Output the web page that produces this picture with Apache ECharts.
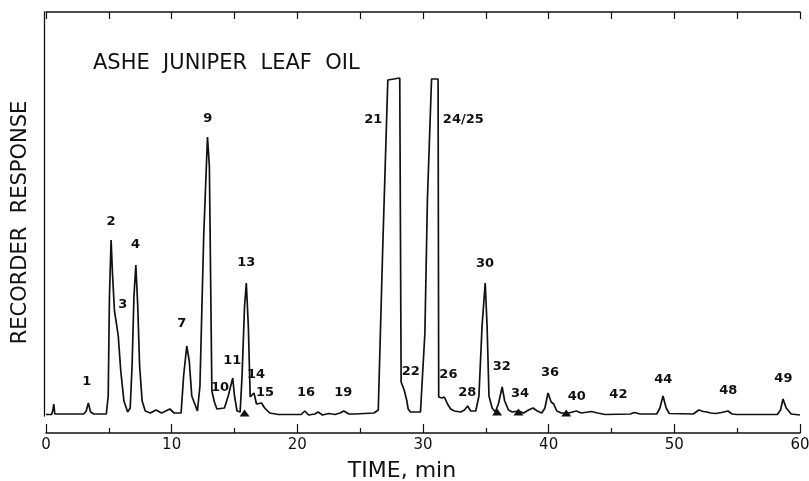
<!DOCTYPE html>
<html>
<head>
<meta charset="utf-8">
<script src="https://cdn.jsdelivr.net/npm/echarts@6/dist/echarts.min.js"></script>
<style>
  html, body { margin: 0; padding: 0; background: #fff; }
  #chart { width: 809px; height: 481px; }
</style>
</head>
<body>
<div id="chart"></div>
<script>
// recorder trace: [time in min, response in arbitrary units]
const trace = [
  [0, 1.5], [0.45, 1.5], [0.55, 6], [0.62, 12], [0.7, 2],
  [3.0, 2], [3.2, 5], [3.37, 13], [3.55, 4], [3.8, 2],
  [4.8, 2], [4.95, 20], [5.05, 120], [5.18, 176], [5.3, 140], [5.45, 105], [5.6, 93], [5.75, 80], [5.95, 45], [6.2, 15], [6.5, 4],
  [6.7, 8], [6.85, 50], [7.0, 120], [7.15, 151], [7.3, 110], [7.45, 50], [7.65, 15], [7.9, 5], [8.3, 3], [8.75, 6], [9.2, 3], [9.85, 7], [10.2, 3], [10.75, 3],
  [10.95, 40], [11.2, 70], [11.4, 55], [11.6, 20], [11.9, 10], [12.05, 5],
  [12.25, 30], [12.55, 180], [12.85, 279], [13.0, 250], [13.2, 25], [13.4, 14], [13.6, 7], [14.2, 8],
  [14.5, 20], [14.86, 38], [15.0, 20], [15.2, 5], [15.45, 4],
  [15.6, 40], [15.8, 110], [15.94, 133], [16.1, 90], [16.25, 19], [16.4, 18], [16.55, 23], [16.75, 12], [16.9, 11], [17.15, 13], [17.4, 8], [17.8, 3], [18.5, 1.5],
  [20.3, 1.5], [20.6, 5], [20.9, 1], [21.4, 2], [21.65, 4], [22.0, 1], [22.5, 2.5], [23.0, 1.5], [23.4, 3], [23.7, 5], [24.1, 2], [24.6, 2],
  [26.1, 3], [26.44, 6], [26.8, 170], [27.2, 336], [27.3, 338], [28.15, 338], [28.2, 336], [28.26, 34], [28.5, 26], [28.7, 16], [28.82, 7], [29.0, 4], [29.8, 4],
  [29.85, 6], [30.15, 83], [30.35, 216], [30.68, 337], [31.2, 337], [31.25, 19], [31.5, 18], [31.7, 19], [31.95, 12], [32.2, 7], [32.5, 5], [33.0, 4], [33.3, 6], [33.55, 10], [33.8, 5], [34.2, 5],
  [34.45, 20], [34.7, 90], [34.95, 133], [35.1, 90], [35.25, 20], [35.5, 8], [35.75, 4],
  [36.0, 12], [36.3, 29], [36.5, 15], [36.8, 6], [37.1, 4], [37.6, 5], [38.0, 3], [38.4, 6], [38.75, 8], [39.1, 5], [39.45, 3],
  [39.7, 8], [39.95, 23], [40.2, 14], [40.4, 12], [40.65, 5], [41.0, 3], [41.6, 3], [42.2, 5], [42.6, 3], [43.4, 4.5], [43.9, 3], [44.5, 1.5],
  [46.5, 2], [46.8, 3.5], [47.3, 2], [48.6, 2], [48.85, 8], [49.1, 20], [49.35, 8], [49.6, 2.5],
  [51.5, 2], [51.95, 6], [52.3, 4.5], [52.6, 4], [52.9, 3], [53.3, 2.5], [53.75, 3.5], [54.27, 5], [54.6, 2], [55.0, 1.5],
  [58.2, 1.5], [58.45, 6], [58.65, 17], [58.9, 8], [59.3, 2], [60, 1]
];

// peak numbers and where they are written
const peakNames = ['1', '2', '3', '4', '7', '9', '10', '11', '13', '14', '15', '16', '19', '21', '22', '24/25', '26', '28', '30', '32', '34', '36', '40', '42', '44', '48', '49'];
const peakNameTime = [3.24, 5.17, 6.1, 7.12, 10.8, 12.88, 13.85, 14.83, 15.94, 16.71, 17.43, 20.69, 23.66, 26.05, 29.02, 33.21, 32.02, 33.53, 34.94, 36.27, 37.72, 40.1, 42.23, 45.55, 49.12, 54.3, 58.68];
const peakNameResp = [34, 194, 111, 171, 92, 297, 28, 55, 153, 41, 23, 23, 23, 296, 44, 296, 41, 23, 152, 49, 22, 43, 19, 21, 36, 25, 37];

// small blackened marks at peak bases
const markTime = [15.8, 35.9, 37.6, 41.4];
const markResp = [3, 4, 4, 3];

const ink = '#111';

let chart = echarts.init(document.getElementById('chart'));
let option = {
  backgroundColor: '#fff',
  animation: false,
  title: {
    text: 'ASHE  JUNIPER  LEAF  OIL',
    left: 88,
    top: 48,
    textStyle: {
      fontFamily: 'DejaVu Sans',
      fontSize: 21,
      fontWeight: 'normal',
      color: ink
    }
  },
  grid: {
    left: 46,
    right: 9,
    top: 12,
    bottom: 65,
    containLabel: false,
    outerBoundsMode: 'none'
  },
  xAxis: [{
    type: 'value',
    min: 0,
    max: 60,
    interval: 10,
    offset: 17,
    name: 'TIME, min',
    nameLocation: 'middle',
    nameGap: 27,
    nameTextStyle: {
      fontFamily: 'DejaVu Sans',
      fontSize: 22,
      color: ink,
      padding: [0, 42, 0, 0]
    },
    axisLine: { onZero: false, lineStyle: { color: ink, width: 1.5 } },
    axisTick: { inside: true, length: 9, lineStyle: { color: ink, width: 1.2 } },
    minorTick: { show: true, splitNumber: 2, length: 5, lineStyle: { color: ink, width: 1.2 } },
    axisLabel: { margin: 5, fontFamily: 'DejaVu Sans', fontSize: 15, color: ink },
    splitLine: { show: false }
  }, {
    type: 'value',
    position: 'top',
    min: 0,
    max: 60,
    interval: 5,
    axisLine: { onZero: false, lineStyle: { color: ink, width: 1.5 } },
    axisTick: { inside: true, length: 7, lineStyle: { color: ink, width: 1.2 } },
    axisLabel: { show: false },
    splitLine: { show: false }
  }],
  yAxis: {
    type: 'value',
    min: 0,
    max: 404,
    offset: 2,
    name: 'RECORDER  RESPONSE',
    nameLocation: 'middle',
    nameGap: 13,
    nameTextStyle: {
      fontFamily: 'DejaVu Sans',
      fontSize: 21,
      color: ink,
      padding: [0, 17, 0, 0]
    },
    axisLine: { show: true, onZero: false, lineStyle: { color: ink, width: 1.3 } },
    axisTick: { show: false },
    axisLabel: { show: false },
    splitLine: { show: false }
  },
  series: [{
    name: 'response',
    type: 'line',
    data: trace,
    showSymbol: false,
    symbol: 'none',
    lineStyle: { color: ink, width: 1.7 },
    clip: true
  }, {
    name: 'marks',
    type: 'scatter',
    symbol: 'triangle',
    symbolSize: [10, 7],
    itemStyle: { color: ink, opacity: 1 },
    data: markTime.map((t, i) => [t, markResp[i]])
  }, {
    name: 'peaks',
    type: 'scatter',
    symbolSize: 0,
    itemStyle: { color: ink, opacity: 1 },
    label: {
      show: true,
      position: 'inside',
      formatter: p => p.name,
      fontFamily: 'DejaVu Sans',
      fontSize: 13,
      fontWeight: 'bold',
      color: ink,
      opacity: 1,
      textBorderWidth: 0
    },
    data: peakNames.map((n, i) => ({ name: n, value: [peakNameTime[i], peakNameResp[i]] }))
  }]
};
chart.setOption(option);
</script>
</body>
</html>
